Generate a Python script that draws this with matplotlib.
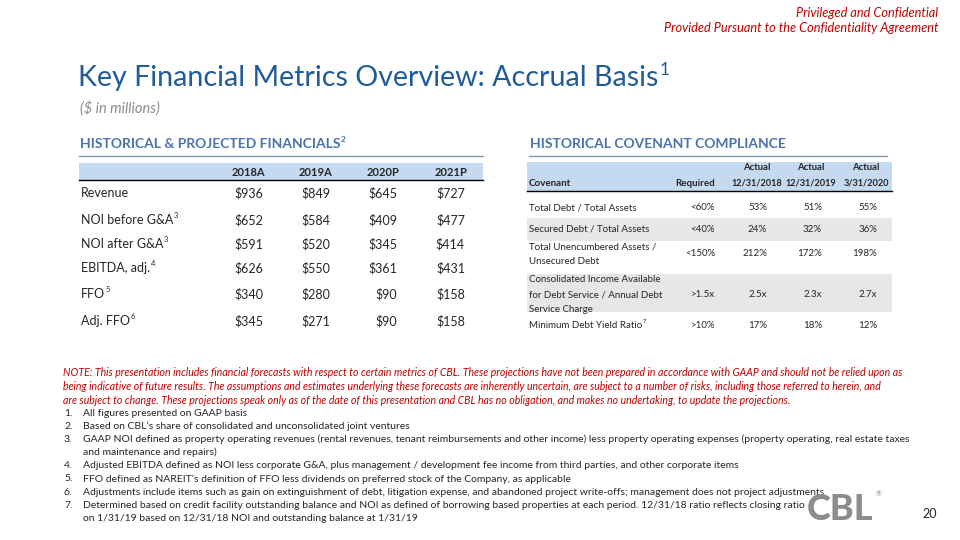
import matplotlib
matplotlib.use('Agg')
import matplotlib.pyplot as plt
from matplotlib.patches import Rectangle

plt.rcParams['font.family'] = ['Lato', 'DejaVu Sans']

# ---- data ----
years = ['2018A', '2019A', '2020P', '2021P']
metrics = ['Revenue', 'NOI before G&A', 'NOI after G&A', 'EBITDA, adj.', 'FFO', 'Adj. FFO']
metric_notes = ['', '3', '3', '4', '5', '6']
revenue = [936, 849, 645, 727]
noi_before = [652, 584, 409, 477]
noi_after = [591, 520, 345, 414]
ebitda_adj = [626, 550, 361, 431]
ffo = [340, 280, 90, 158]
adj_ffo = [345, 271, 90, 158]
fin_rows = [revenue, noi_before, noi_after, ebitda_adj, ffo, adj_ffo]

covenants = ['Total Debt / Total Assets',
             'Secured Debt / Total Assets',
             'Total Unencumbered Assets /\nUnsecured Debt',
             'Consolidated Income Available\nfor Debt Service / Annual Debt\nService Charge',
             'Minimum Debt Yield Ratio']
covenant_notes = ['', '', '', '', '7']
required = ['<60%', '<40%', '<150%', '>1.5x', '>10%']
actual_2018 = ['53%', '24%', '212%', '2.5x', '17%']
actual_2019 = ['51%', '32%', '172%', '2.3x', '18%']
actual_2020 = ['55%', '36%', '198%', '2.7x', '12%']
cov_dates = ['12/31/2018', '12/31/2019', '3/31/2020']

note_lines = [
    'NOTE: This presentation includes financial forecasts with respect to certain metrics of CBL. These projections have not been prepared in accordance with GAAP and should not be relied upon as',
    'being indicative of future results. The assumptions and estimates underlying these forecasts are inherently uncertain, are subject to a number of risks, including those referred to herein, and',
    'are subject to change. These projections speak only as of the date of this presentation and CBL has no obligation, and makes no undertaking, to update the projections.',
]
footnotes = [
    'All figures presented on GAAP basis',
    'Based on CBL\u2019s share of consolidated and unconsolidated joint ventures',
    'GAAP NOI defined as property operating revenues (rental revenues, tenant reimbursements and other income) less property operating expenses (property operating, real estate taxes\nand maintenance and repairs)',
    'Adjusted EBITDA defined as NOI less corporate G&A, plus management / development fee income from third parties, and other corporate items',
    'FFO defined as NAREIT\u2019s definition of FFO less dividends on preferred stock of the Company, as applicable',
    'Adjustments include items such as gain on extinguishment of debt, litigation expense, and abandoned project write-offs; management does not project adjustments',
    'Determined based on credit facility outstanding balance and NOI as defined of borrowing based properties at each period. 12/31/18 ratio reflects closing ratio\non 1/31/19 based on 12/31/18 NOI and outstanding balance at 1/31/19',
]

# ---- colors ----
red = '#C00000'
blue_title = '#1F5C99'
blue_head = '#4A72AE'
band_blue = '#C5D9F1'
band_gray = '#E7E7E7'
txt = '#262626'

fig = plt.figure(figsize=(9.6, 5.4), dpi=100)
ax = fig.add_axes([0, 0, 1, 1])
ax.set_xlim(0, 960)
ax.set_ylim(540, 0)
ax.axis('off')
r = fig.canvas.get_renderer()


def sup_text(x, y, s, note, size, color, gap=0.5, rise=0.55, **kw):
    t = ax.text(x, y, s, fontsize=size, color=color, va='center', **kw)
    if note:
        bb = t.get_window_extent(renderer=r)
        xe = ax.transData.inverted().transform((bb.x1, bb.y0))[0]
        ax.text(xe + gap, y - size * rise, note, fontsize=size * 0.6, color=color,
                va='center', **{k: v for k, v in kw.items() if k != 'ha'})
    return t


# header confidentiality
ax.text(938, 13, 'Privileged and Confidential', color=red, fontsize=9.2,
        style='italic', ha='right', va='center')
ax.text(938, 28, 'Provided Pursuant to the Confidentiality Agreement', color=red,
        fontsize=9.2, style='italic', ha='right', va='center')

# title
sup_text(78, 78, 'Key Financial Metrics Overview: Accrual Basis', '1', 20.6,
         blue_title, gap=1.5, rise=0.38)
ax.text(80, 108, '($ in millions)', color='#8C8C8C', fontsize=10.5,
        style='italic', va='center')

# section headings
sup_text(80, 144, 'HISTORICAL & PROJECTED FINANCIALS', '2', 10, blue_head,
         fontweight='bold', rise=0.4)
ax.plot([79, 483], [156, 156], color='#8497B0', lw=1)
ax.text(530, 144, 'HISTORICAL COVENANT COMPLIANCE', color=blue_head, fontsize=10,
        fontweight='bold', va='center')
ax.plot([529, 887], [156, 156], color='#8497B0', lw=1)

# ---- left table ----
ax.add_patch(Rectangle((79, 163), 404, 17, facecolor=band_blue, edgecolor='none'))
ax.plot([79, 483], [180, 180], color='black', lw=1)
col_right = [263, 330, 397, 465]
for xr, yname in zip(col_right, years):
    ax.text(xr + 2, 172, yname, fontsize=8, fontweight='bold', color=txt,
            ha='right', va='center')
row_y = [193, 220, 244, 268, 294, 321]
for yy, name, note, vals in zip(row_y, metrics, metric_notes, fin_rows):
    sup_text(81, yy, name, note, 9, txt, gap=0.3)
    for xr, v in zip(col_right, vals):
        ax.text(xr, yy, '$%d' % v, fontsize=9, color=txt, ha='right', va='center')

# ---- right table ----
ax.add_patch(Rectangle((527, 162), 365, 29, facecolor=band_blue, edgecolor='none'))
ax.plot([527, 892], [191, 191], color='black', lw=1)
band_edges = [195, 218, 241, 274, 312, 338]
row_centers = [208, 229, 254, 294.5, 325]
for i in range(len(covenants)):
    if i % 2 == 1:
        ax.add_patch(Rectangle((527, band_edges[i]), 365, band_edges[i + 1] - band_edges[i],
                               facecolor=band_gray, edgecolor='none'))
ax.text(529, 183, 'Covenant', fontsize=7, fontweight='bold', color=txt, va='center')
ax.text(715, 183, 'Required', fontsize=7, fontweight='bold', color=txt,
        ha='right', va='center')
cov_cols = [757, 811, 866]
for xc, d in zip(cov_cols, cov_dates):
    ax.text(xc, 167, 'Actual', fontsize=6.8, fontweight='bold', color=txt,
            ha='center', va='center')
    ax.text(xc, 183, d, fontsize=6.6, fontweight='bold', color=txt,
            ha='center', va='center')
val_right = [715, 767, 822, 877]
for i, name in enumerate(covenants):
    yc = row_centers[i]
    lines = name.split('\n')
    step = 15 if len(lines) == 2 else 14.5
    y0 = yc - step * (len(lines) - 1) / 2
    for j, ln in enumerate(lines):
        sup_text(529, y0 + j * step, ln, covenant_notes[i] if j == len(lines) - 1 else '',
                 7, txt, gap=0.3)
    for xr, v in zip(val_right, [required[i], actual_2018[i], actual_2019[i], actual_2020[i]]):
        ax.text(xr, yc, v, fontsize=7, color=txt, ha='right', va='center')

# ---- notes ----
for k, ln in enumerate(note_lines):
    ax.text(63, 373 + k * 13.5, ln, fontsize=7.6, color=red, style='italic', va='center')
yy = 413
for n, fn in enumerate(footnotes):
    ax.text(64, yy, '%d.' % (n + 1), fontsize=7.5, color=txt, va='center')
    for ln in fn.split('\n'):
        ax.text(83, yy, ln, fontsize=7.5, color=txt, va='center')
        yy += 13.2

# logo and page number
ax.text(807, 509, 'CBL', fontsize=26, fontweight='black', color='#8C8C8C',
        va='center')
ax.text(876, 494, '\u00ae', fontsize=5, color='#8C8C8C', va='center')
ax.text(930, 514, '20', fontsize=9, color=txt, ha='center', va='center')

fig.savefig('out.png', dpi=100)
